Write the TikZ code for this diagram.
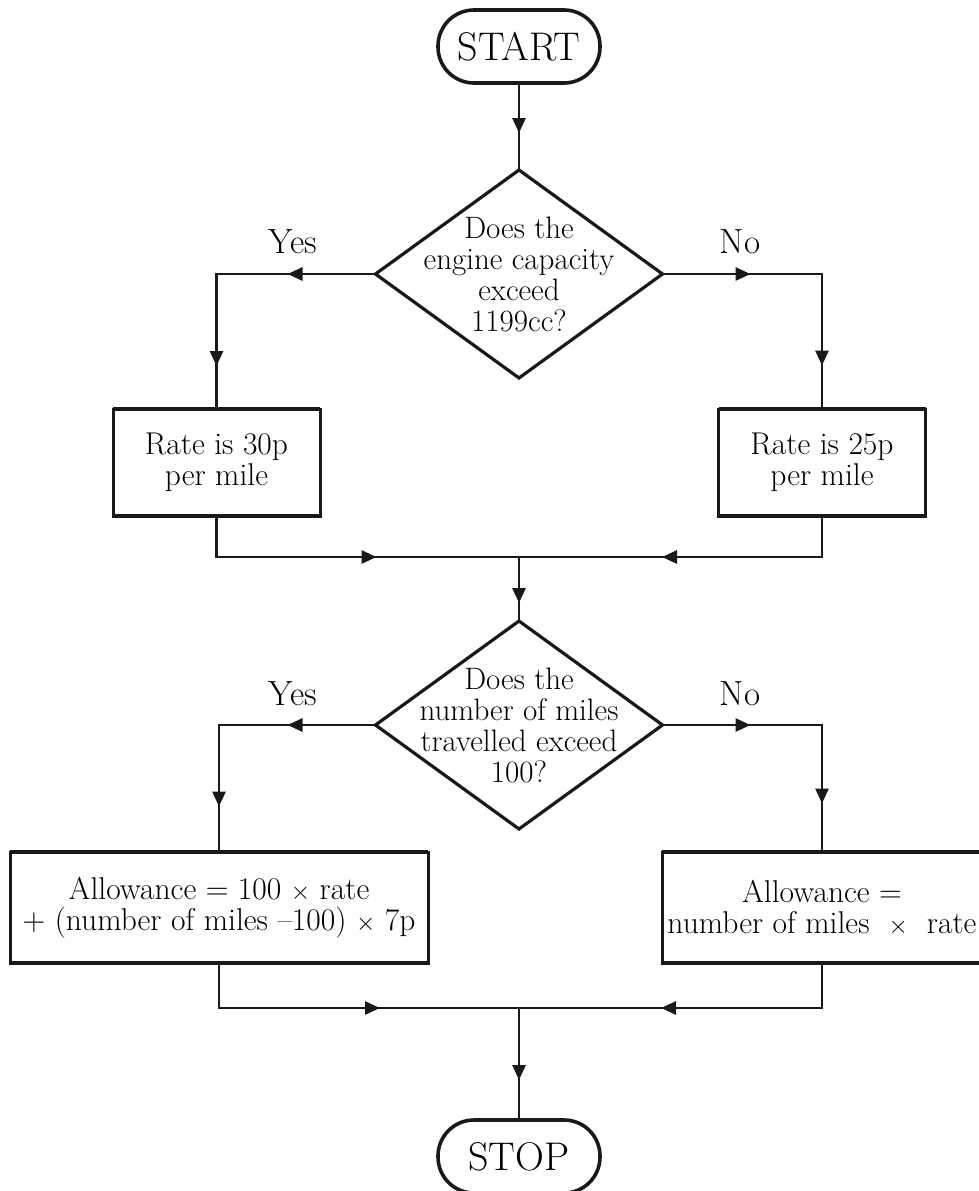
\documentclass[tikz,border=0pt]{standalone}
\usepackage{fontspec}
\usetikzlibrary{shapes.geometric,arrows.meta,decorations.markings}
\begin{document}
\begin{tikzpicture}[x=1pt,y=-1pt,
  tri/.tip={Triangle[length=15pt,width=13pt]},
  conn/.style={line width=2.8pt,draw=black!90},
  arrowsat/.style 2 args={postaction={decorate},decoration={markings,
     mark=at position #1 with {\arrow{tri}},
     mark=at position #2 with {\arrow{tri}}}},
  arrowat/.style={postaction={decorate},decoration={markings,
     mark=at position #1 with {\arrow{tri}}}},
  pill/.style={draw=black!90,line width=3.6pt,rounded corners=36pt,minimum width=162pt,minimum height=73pt,inner sep=0pt,outer sep=0pt,font=\fontsize{40}{42}\selectfont},
  dia/.style={diamond,draw=black!90,line width=3.2pt,minimum width=287pt,minimum height=208pt,inner sep=0pt,outer sep=0pt},
  difont/.style={align=center,font=\fontsize{31}{31}\selectfont,inner sep=0pt},
  procbox/.style={draw=black!90,line width=3pt,inner sep=0pt,outer sep=0pt,align=center,font=\fontsize{31.5}{31}\selectfont},
  bar/.style={line width=4.8pt,draw=black!90},
  lbl/.style={anchor=base,inner sep=0pt,font=\fontsize{35}{36}\selectfont}
]
\useasboundingbox (0,0) rectangle (979,1191);

\node[pill] (start) at (519,46.5) {START};
\node[dia,label={[difont]center:{Does the\\engine capacity\\exceed\\1199cc?}}] (d1) at (519,274) {};
\node[procbox,minimum width=207pt,minimum height=107pt] (b1) at (216.5,462.5) {Rate is 30p\\per mile};
\node[procbox,minimum width=207pt,minimum height=107pt] (b2) at (822,462.5) {Rate is 25p\\per mile};
\coordinate (m1) at (519,557);
\node[dia,label={[difont]center:{Does the\\number of miles\\travelled exceed\\100?}}] (d2) at (519,725) {};
\node[procbox,minimum width=418pt,minimum height=111pt] (b3) at (219,907.5) {Allowance = 100 $\times$ rate\\+ (number of miles \textendash100) $\times$ 7p};
\node[procbox,minimum width=320pt,minimum height=111pt] (b4) at (822,907.5) {Allowance =\\number of miles \ $\times$ \ rate};
\coordinate (m2) at (519,1008);
\node[pill] (stop) at (519,1156.5) {STOP};

\foreach \b in {b1,b2,b3,b4}{
  \draw[bar] (\b.north west) -- (\b.north east);
  \draw[bar] (\b.south west) -- (\b.south east);
}

\node[lbl] (y1) at (293,253) {Yes};
\node[lbl] (n1) at (740,253) {No};
\node[lbl] (y2) at (293,705) {Yes};
\node[lbl] (n2) at (740,705) {No};

\draw[conn,arrowat=50pt] (start.south) -- (d1.north);
\draw[conn,arrowsat={88pt}{251pt}] (d1.west) -| (b1.north);
\draw[conn,arrowsat={88pt}{251pt}] (d1.east) -| (b2.north);
\draw[conn,arrowat=201pt] (b1.south) |- (m1);
\draw[conn,arrowat=201pt] (b2.south) |- (m1);
\draw[conn,arrowat=46pt] (m1) -- (d2.north);
\draw[conn,arrowsat={88pt}{238pt}] (d2.west) -| (b3.north);
\draw[conn,arrowsat={88pt}{238pt}] (d2.east) -| (b4.north);
\draw[conn,arrowat=206pt] (b3.south) |- (m2);
\draw[conn,arrowat=206pt] (b4.south) |- (m2);
\draw[conn,arrowat=72pt] (m2) -- (stop.north);
\end{tikzpicture}
\end{document}
